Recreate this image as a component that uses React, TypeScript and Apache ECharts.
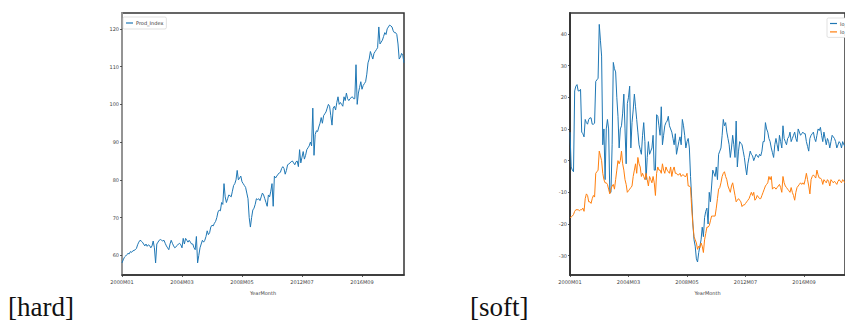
import React, { useEffect, useRef } from "react";
import * as echarts from "echarts";

// ---- data ----
const START_YEAR = 2000;
const N_MONTHS = 236;
const yearMonths: string[] = [];
for (let i = 0; i < N_MONTHS; i++) {
  const y = START_YEAR + Math.floor(i / 12);
  const m = (i % 12) + 1;
  yearMonths.push(`${y}M${m < 10 ? "0" + m : m}`);
}

const prodIndex = [
  58.0, 58.8, 59.5, 59.8, 60.2, 60.5, 60.4, 61.0, 60.8, 61.2,
  61.3, 61.5, 61.8, 62.8, 63.5, 64.0, 63.8, 63.5, 63.0, 62.5,
  63.0, 62.4, 62.8, 62.6, 62.0, 62.5, 63.8, 62.0, 58.0, 63.0,
  63.5, 64.0, 64.2, 64.0, 63.8, 64.0, 63.2, 62.5, 62.0, 61.5,
  63.0, 64.0, 63.2, 62.5, 62.0, 62.3, 62.6, 63.0, 63.2, 62.8,
  62.0, 64.5, 63.0, 64.5, 64.0, 63.5, 64.0, 63.5, 63.0, 63.0,
  62.0, 61.5, 65.0, 58.0, 60.0, 62.0, 63.0, 64.0, 63.5, 64.0,
  65.0, 66.5, 65.5, 66.0, 67.5, 68.0, 67.8, 68.5, 69.0, 70.0,
  71.5, 72.0, 71.8, 74.0, 73.5, 79.0, 75.5, 74.0, 75.0, 76.0,
  75.8, 75.5, 77.0, 78.5, 79.0, 80.0, 82.5, 80.0, 80.5, 81.0,
  79.5, 79.0, 78.5, 78.0, 76.5, 75.0, 70.0, 67.5, 70.0, 72.0,
  72.5, 73.5, 75.0, 74.8, 75.0, 74.5, 75.5, 76.5, 76.0, 75.0,
  74.0, 73.0, 76.0, 75.5, 77.0, 79.0, 73.0, 81.0, 80.5, 81.0,
  81.5, 81.8, 82.0, 83.0, 83.5, 83.0, 81.5, 82.5, 84.0, 84.2,
  84.5, 84.8, 85.0, 84.5, 84.0, 84.8, 85.0, 83.5, 88.0, 84.5,
  86.0, 87.5, 85.5, 86.5, 88.0, 88.5, 89.0, 90.0, 89.0, 99.0,
  86.5, 92.0, 93.0, 92.8, 94.0, 95.0, 96.5, 95.0, 97.0, 97.5,
  98.0, 99.0, 100.0, 99.5, 97.0, 94.5, 99.0, 99.5, 98.5, 100.5,
  102.0, 100.0, 100.5, 100.0, 99.5, 102.0, 101.0, 103.0, 101.5, 101.0,
  101.5, 101.8, 102.0, 101.5, 101.5, 110.5, 100.0, 103.0, 104.5, 106.0,
  104.0, 105.0, 105.5, 106.0, 108.0, 111.0, 112.0, 114.0, 113.0, 112.0,
  113.5, 114.0, 114.5, 115.0, 120.5, 116.0, 116.5, 117.0, 118.0, 119.0,
  118.5, 120.0, 120.5, 121.0, 120.8, 120.5, 119.5, 119.0, 119.0, 118.5,
  116.0, 112.0, 112.5, 113.5, 113.0, 111.0,
];

const loJobs = [
  9.0, -2.0, -3.0, -3.5, 22.0, 23.5, 24.0, 22.0, 22.0, 22.5,
  9.0, 8.5, 7.5, 13.0, 12.0, 11.5, 13.0, 13.5, 13.5, 11.5,
  11.5, 11.8, 25.0, 25.5, 26.0, 43.0, 38.0, 33.0, 5.0, 10.0,
  -6.0, 10.0, 13.0, 10.0, -10.0, -10.0, 5.0, 31.0, 29.0, 28.0,
  20.0, 14.0, 4.0, 10.0, 11.0, 15.0, 21.0, 10.0, -1.0, 18.0,
  20.0, 23.5, 4.0, 12.0, 16.0, 21.0, 17.0, 13.0, 9.0, 5.0,
  3.5, 2.0, 8.0, 12.0, 6.0, -6.0, 1.0, 6.0, 2.0, 3.0,
  4.0, 8.0, -3.0, -3.0, 14.5, 14.0, 11.0, 8.0, 17.0, 5.0,
  8.0, 11.0, 12.0, 12.5, 14.0, 11.0, 10.0, 9.0, 7.0, 5.0,
  8.5, 2.0, 4.0, 6.0, 7.5, 5.0, 13.0, 11.0, 8.0, 4.0,
  6.0, 7.0, 4.0, -5.0, -12.0, -20.0, -25.0, -27.0, -31.0, -32.0,
  -29.0, -27.0, -25.0, -21.0, -24.0, -18.0, -16.0, -15.0, -20.0, -10.0,
  -13.0, -8.0, -3.0, -4.0, -5.0, -2.0, -6.0, 2.0, 3.0, 4.0,
  8.0, 13.0, 11.0, 12.0, 9.0, 7.0, 5.0, 1.0, 4.0, 8.0,
  5.0, 1.0, 12.5, -2.0, 3.0, 6.0, 5.5, 5.0, 3.0, 1.0,
  -2.0, -4.5, -1.0, 1.0, 3.0, 2.0, 1.5, 0.0, 1.0, 2.0,
  1.5, 1.0, 2.0, 1.5, 3.0, 6.0, 6.0, 12.0, 10.0, 9.0,
  7.0, 6.0, 4.0, 2.5, 1.0, 5.0, 7.0, 5.0, 3.0, 8.0,
  6.0, 4.0, 11.0, 7.0, 6.0, 5.0, 7.0, 7.5, 9.0, 6.0,
  7.0, 8.0, 9.0, 7.0, 6.0, 10.0, 9.0, 8.0, 8.5, 9.0,
  8.5, 8.5, 6.0, 4.5, 3.0, 7.0, 8.0, 8.5, 9.0, 7.0,
  6.0, 8.0, 10.0, 9.5, 10.5, 8.0, 6.0, 9.0, 7.0, 5.0,
  7.0, 6.0, 4.0, 6.0, 8.0, 7.5, 7.0, 6.0, 4.0, 5.0,
  6.0, 5.5, 4.0, 6.0, 5.0, 4.5,
];

const loEmpl = [
  -18.0, -17.8, -17.5, -17.0, -16.0, -15.5, -15.5, -15.5, -15.8, -15.5,
  -15.5, -15.0, -16.0, -12.0, -10.5, -11.0, -13.0, -13.0, -13.5, -12.0,
  -11.0, -11.5, -4.0, -3.5, -3.0, 3.0, 1.5, 0.0, -4.0, -6.0,
  -7.0, -7.0, -7.5, -9.0, -10.5, -9.0, -8.0, -7.5, -9.0, -6.0,
  -3.0, 0.0, -1.0, 0.0, 3.0, -1.0, -3.0, -6.0, -7.5, -10.0,
  -9.5, -9.0, -8.5, -8.0, -5.0, -3.0, -1.0, -4.0, 1.0, -1.0,
  -2.0, -5.0, -4.0, -5.0, -6.0, -4.0, -6.0, -8.0, -5.0, -6.0,
  -7.0, -5.0, -7.0, -11.0, -4.0, -2.0, -3.0, -3.0, -4.0, -1.0,
  -3.0, -4.0, -2.0, -3.0, -3.5, -4.0, -2.0, -5.0, -3.0, -2.0,
  -4.0, -4.0, -4.5, -4.5, -4.0, -5.0, -4.5, -4.5, -5.0, -5.0,
  -4.0, -8.0, -8.0, -8.5, -15.0, -20.0, -24.0, -25.0, -26.0, -28.0,
  -27.0, -27.5, -26.0, -27.0, -29.0, -25.0, -23.0, -21.0, -21.0, -20.5,
  -19.0, -17.5, -17.5, -17.5, -17.5, -15.0, -12.0, -9.0, -8.5, -7.0,
  -5.0, -4.0, -3.5, -5.0, -6.0, -8.0, -9.0, -10.0, -8.0, -7.0,
  -9.0, -11.0, -13.0, -12.5, -12.0, -12.5, -13.0, -14.5, -14.0, -14.0,
  -13.5, -13.0, -12.5, -12.0, -11.0, -10.0, -11.0, -10.0, -12.5, -12.0,
  -11.0, -11.5, -12.0, -12.0, -11.0, -10.0, -9.0, -8.0, -7.5, -7.0,
  -5.0, -6.0, -5.0, -9.0, -8.5, -8.5, -9.0, -8.5, -8.0, -7.5,
  -8.5, -10.0, -5.0, -7.0, -8.0, -8.5, -9.0, -9.5, -10.0, -8.5,
  -10.0, -11.0, -12.5, -10.0, -8.5, -8.0, -7.5, -7.0, -7.5, -7.0,
  -7.5, -6.0, -4.0, -6.0, -8.0, -10.5, -6.0, -5.0, -4.5, -5.0,
  -5.5, -3.0, -4.5, -5.5, -5.5, -6.0, -7.5, -6.0, -6.5, -7.0,
  -6.0, -6.5, -8.0, -6.0, -6.5, -7.0, -6.5, -7.0, -7.5, -6.5,
  -6.0, -6.5, -7.0, -6.0, -6.5, -7.0,
];

const leftTicks = [60, 70, 80, 90, 100, 110, 120];
const rightTicks = [-30, -20, -10, 0, 10, 20, 30, 40];
const xTickEvery = 50;
const panelLabels = ["[hard]", "[soft]"];

const BLUE = "#1f77b4";
const ORANGE = "#ff7f0e";
const FONT = "DejaVu Sans";

function xAxisFor(gridIndex: number) {
  return {
    type: "category",
    gridIndex,
    data: yearMonths,
    boundaryGap: false,
    name: "YearMonth",
    nameLocation: "middle",
    nameGap: 15,
    nameTextStyle: { fontSize: 5, color: "#444", fontFamily: FONT },
    axisLine: { show: true, onZero: false, lineStyle: { color: "#333", width: 1.5 } },
    axisTick: {
      show: true,
      length: 2,
      interval: (i: number) => i % xTickEvery === 0,
      lineStyle: { color: "#333", width: 0.8 },
    },
    axisLabel: {
      show: true,
      interval: (i: number) => i % xTickEvery === 0,
      fontSize: 5,
      color: "#444",
      margin: 4,
      fontFamily: FONT,
    },
    splitLine: { show: false },
  };
}

function yAxisFor(gridIndex: number, min: number, max: number, ticks: number[], lineColor: string) {
  return {
    type: "value",
    gridIndex,
    min,
    max,
    axisLine: { show: true, onZero: false, lineStyle: { color: lineColor, width: 1.8 } },
    axisTick: {
      show: true,
      length: 2,
      customValues: ticks,
      lineStyle: { color: "#333", width: 0.8 },
    },
    axisLabel: {
      show: true,
      customValues: ticks,
      fontSize: 5,
      color: "#444",
      margin: 3,
      fontFamily: FONT,
    },
    splitLine: { show: false },
  };
}

export default function App() {
  const ref = useRef<HTMLDivElement>(null);

  useEffect(() => {
    document.body.style.margin = "0";
    if (!ref.current) return;
    const chart = echarts.init(ref.current, undefined, { renderer: "svg" });
    const option: any = {
      animation: false,
      backgroundColor: "#ffffff",
      grid: [
        { left: 122, top: 13, width: 282, height: 262, show: true, borderColor: "#333", borderWidth: 1.5, backgroundColor: "transparent" },
        { left: 570, top: 13, width: 282, height: 262, show: true, borderColor: "#333", borderWidth: 1.5, backgroundColor: "transparent" },
      ],
      xAxis: [xAxisFor(0), xAxisFor(1)],
      yAxis: [
        yAxisFor(0, 54.8, 124.2, leftTicks, "#999"),
        yAxisFor(1, -36.1, 46.6, rightTicks, "#333"),
      ],
      legend: [
        {
          data: ["Prod_Index"],
          left: 123,
          top: 17,
          orient: "vertical",
          icon: "rect",
          itemWidth: 7,
          itemHeight: 1.2,
          padding: [3.5, 3, 3.5, 3],
          borderColor: "#ccc",
          borderWidth: 0.6,
          borderRadius: 1.5,
          backgroundColor: "#fff",
          textStyle: { fontSize: 5, color: "#333", fontFamily: FONT, padding: [0, 0, 0, -2] },
        },
        {
          data: ["lo_jobs", "lo_empl"],
          left: 827,
          top: 18,
          orient: "vertical",
          icon: "rect",
          itemWidth: 7,
          itemHeight: 1.2,
          itemGap: 3.4,
          padding: [3, 3, 3, 3],
          borderColor: "#ccc",
          borderWidth: 0.6,
          borderRadius: 1.5,
          backgroundColor: "#fff",
          textStyle: { fontSize: 5, color: "#333", fontFamily: FONT, padding: [0, 0, 0, -2] },
        },
      ],
      series: [
        {
          name: "Prod_Index",
          type: "line",
          xAxisIndex: 0,
          yAxisIndex: 0,
          data: prodIndex,
          showSymbol: false,
          symbol: "none",
          color: BLUE,
          lineStyle: { color: BLUE, width: 1 },
        },
        {
          name: "lo_jobs",
          type: "line",
          xAxisIndex: 1,
          yAxisIndex: 1,
          data: loJobs,
          showSymbol: false,
          symbol: "none",
          color: BLUE,
          lineStyle: { color: BLUE, width: 1 },
        },
        {
          name: "lo_empl",
          type: "line",
          xAxisIndex: 1,
          yAxisIndex: 1,
          data: loEmpl,
          showSymbol: false,
          symbol: "none",
          color: ORANGE,
          lineStyle: { color: ORANGE, width: 1 },
        },
      ],
      graphic: [
        {
          type: "text",
          left: 8,
          top: 293,
          style: { text: panelLabels[0], fontSize: 27, fontFamily: "Liberation Serif", fill: "#111" },
        },
        {
          type: "text",
          left: 470,
          top: 293,
          style: { text: panelLabels[1], fontSize: 27, fontFamily: "Liberation Serif", fill: "#111" },
        },
      ],
    };
    chart.setOption(option);
    return () => chart.dispose();
  }, []);

  return (
    <div
      ref={ref}
      style={{ position: "fixed", left: 0, top: 0, width: 845, height: 322, background: "#fff" }}
    />
  );
}
